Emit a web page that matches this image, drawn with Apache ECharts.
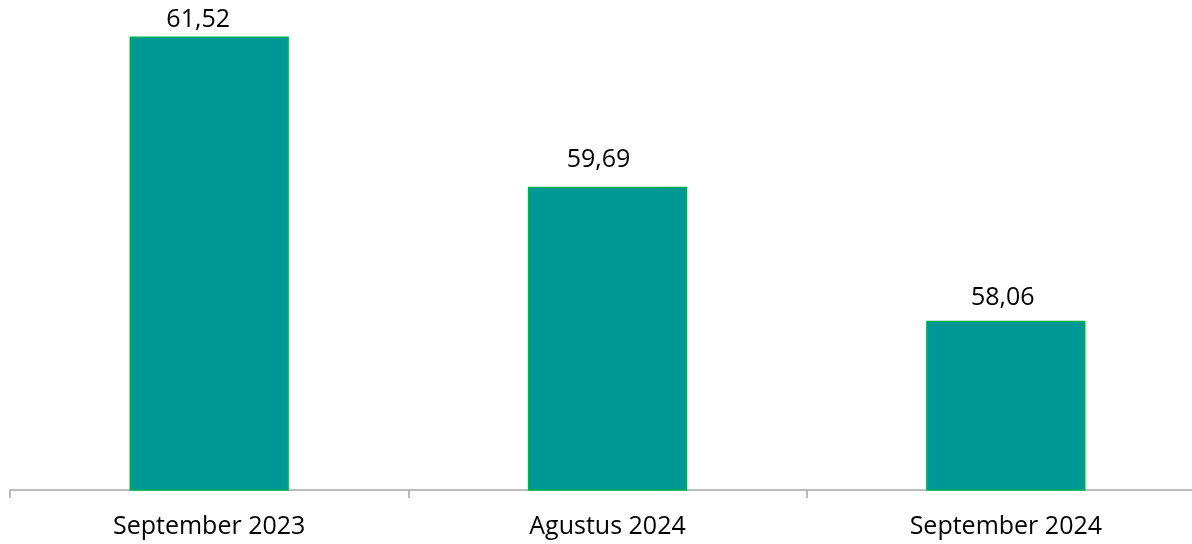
<!DOCTYPE html>
<html lang="id">
<head>
    <meta charset="UTF-8">
    <title>Chart</title>
    <style>
        html, body {
            margin: 0;
            padding: 0;
            width: 100%;
            height: 100%;
            overflow: hidden;
            background: #fff;
        }
        /* the plot runs a little past the right and top edges */
        #chart {
            position: absolute;
            left: 0;
            top: -3px;
            width: 1205px;
            height: 547px;
        }
    </style>
</head>
<body>
    <div id="chart"></div>

<script src="https://cdn.jsdelivr.net/npm/echarts@6/dist/echarts.min.js"></script>
<script>
    var categories = ['September 2023', 'Agustus 2024', 'September 2024'];
    var values = [61.52, 59.69, 58.06];

    // labels were nudged by hand in the original
    var labelNudge = [[-11, 0], [-9, -10], [-3, -6]];

    var chart = echarts.init(document.getElementById('chart'));

    var barData = values.map(function (v, i) {
        return {
            value: v,
            label: { offset: labelNudge[i] }
        };
    });

    var option = {
        animation: false,
        backgroundColor: '#fff',
        grid: {
            left: 10,
            right: 0,
            top: 0,
            bottom: 54
        },
        xAxis: {
            type: 'category',
            data: categories,
            axisLine: {
                lineStyle: { color: '#a6a6a6', width: 1.5 }
            },
            axisTick: {
                show: true,
                length: 8,
                lineStyle: { color: '#a6a6a6', width: 1.5 }
            },
            axisLabel: {
                color: '#000',
                fontSize: 25,
                fontFamily: 'Open Sans',
                margin: 24
            }
        },
        yAxis: {
            type: 'value',
            min: 56,
            max: 62,
            show: false,
            splitLine: { show: false }
        },
        series: [{
            type: 'bar',
            data: barData,
            barWidth: '40%',
            itemStyle: {
                color: '#009896',
                borderColor: '#00b050',
                borderWidth: 1.5
            },
            label: {
                show: true,
                position: 'top',
                distance: 4,
                color: '#000',
                fontSize: 25,
                fontFamily: 'Open Sans',
                formatter: function (p) {
                    return p.value.toFixed(2).replace('.', ',');
                }
            }
        }]
    };

    chart.setOption(option);
</script>
</body>
</html>
